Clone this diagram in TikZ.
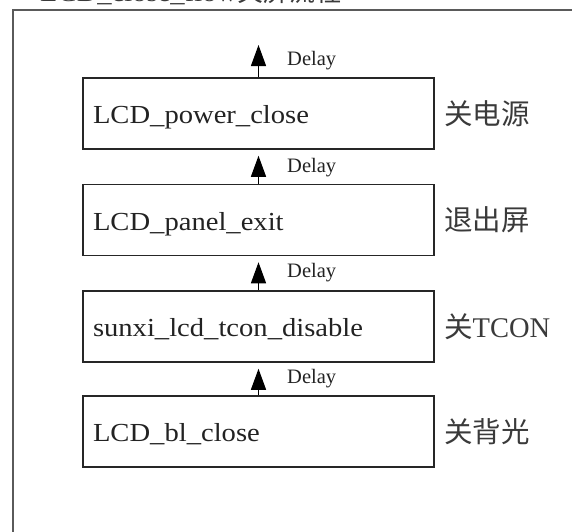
\documentclass[tikz,border=0pt]{standalone}
\usepackage{fontspec}
\setmainfont{Liberation Serif}
\newfontfamily\widefont[FakeStretch=1.1]{Liberation Serif}
\newfontfamily\cjk{Noto Sans CJK SC}
\usetikzlibrary{arrows.meta}
\definecolor{txt}{HTML}{222222}
\definecolor{cjkc}{HTML}{3A3A3A}
\definecolor{frame}{HTML}{5A5A5A}
\begin{document}
\begin{tikzpicture}[x=1pt,y=-1pt,
  stepbox/.style={draw=black!85,line width=1.5pt,rectangle,minimum height=71pt,
    text width=331pt,inner xsep=10pt,inner ysep=0pt,align=left,text=txt,
    text height=20pt,text depth=0pt,
    font=\widefont\fontsize{26}{30}\selectfont},
  delaylbl/.style={anchor=west,text=txt,inner sep=0pt,font=\fontsize{20.5}{24}\selectfont},
  side/.style={anchor=west,text=cjkc,inner sep=0pt,font=\fontsize{28.5}{32}\selectfont},
  arr/.style={line width=1.3pt,-{Triangle[width=15pt,length=21pt]}}]
\useasboundingbox (0,0) rectangle (572,531);
% outer frame
\draw[frame,line width=2pt] (12.5,540) -- (12.5,9.5) -- (590,9.5);
% cut-off title
\node[anchor=base west,inner sep=0pt,text=cjkc,font=\widefont\fontsize{26}{30}\selectfont] (title) at (40,1) {LCD\_close\_flow{\cjk 关屏流程}};
% boxes
\node[stepbox] (b1) at (258.5,113.5) {LCD\_power\_close};
\node[stepbox] (b2) at (258.5,220) {LCD\_panel\_exit};
\node[stepbox] (b3) at (258.5,326.5) {sunxi\_lcd\_tcon\_disable};
\node[stepbox] (b4) at (258.5,431.5) {LCD\_bl\_close};
% arrows
\coordinate (top) at (258.5,45);
\draw[arr] (b1.north) -- (top);
\draw[arr] (b2.north) -- ([yshift=-6pt]b1.south);
\draw[arr] (b3.north) -- ([yshift=-6pt]b2.south);
\draw[arr] (b4.north) -- ([yshift=-6pt]b3.south);
% delay labels
\node[delaylbl] (d1) at (287,61) {Delay};
\node[delaylbl] (d2) at (287,168) {Delay};
\node[delaylbl] (d3) at (287,273) {Delay};
\node[delaylbl] (d4) at (287,379) {Delay};
% side labels
\node[side] (s1) at (444,113.5) {\cjk 关电源};
\node[side] (s2) at (444,220) {\cjk 退出屏};
\node[side] (s3) at (444,326.5) {{\cjk 关}TCON};
\node[side] (s4) at (444,431.5) {\cjk 关背光};
\end{tikzpicture}
\end{document}
